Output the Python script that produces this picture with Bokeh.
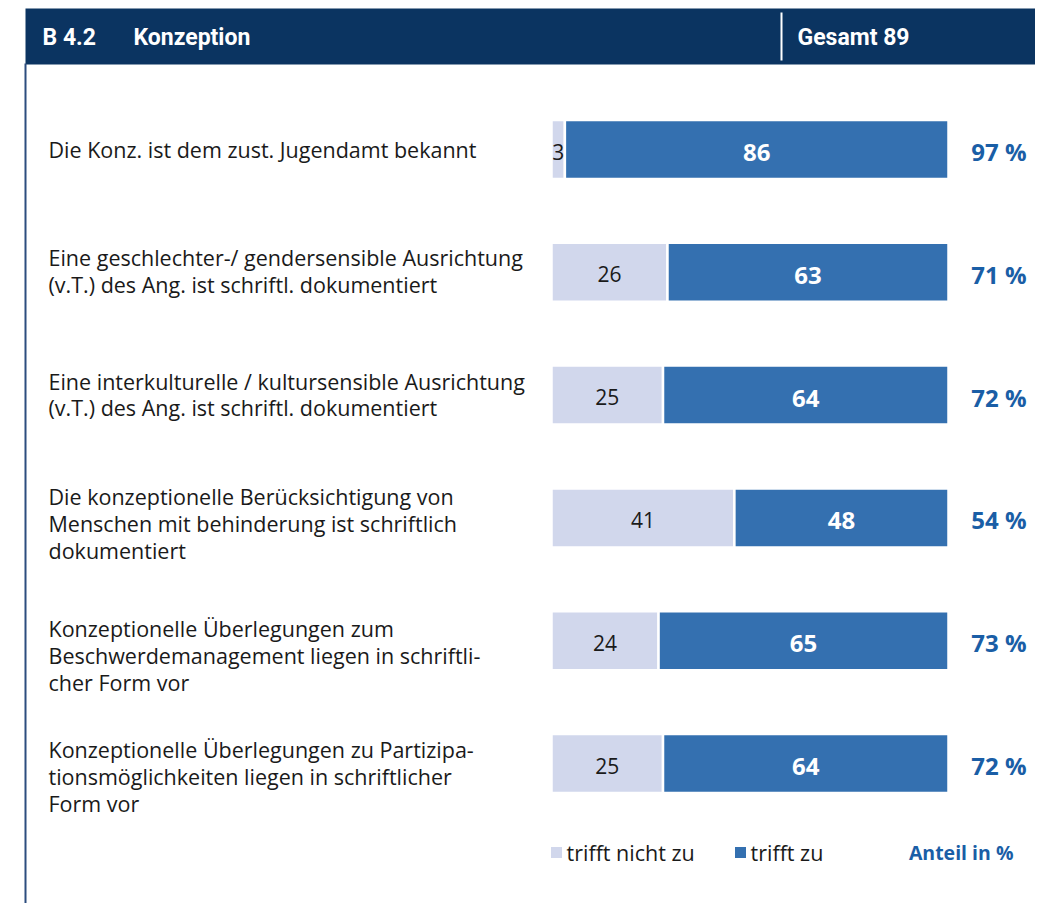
from bokeh.plotting import figure
from bokeh.models import Range1d
from bokeh.core.properties import value
from bokeh.embed import file_html
from bokeh.resources import INLINE

# ---------------- data ----------------
categories = [
    ["Die Konz. ist dem zust. Jugendamt bekannt"],
    ["Eine geschlechter-/ gendersensible Ausrichtung", "(v.T.) des Ang. ist schriftl. dokumentiert"],
    ["Eine interkulturelle / kultursensible Ausrichtung", "(v.T.) des Ang. ist schriftl. dokumentiert"],
    ["Die konzeptionelle Berücksichtigung von", "Menschen mit behinderung ist schriftlich", "dokumentiert"],
    ["Konzeptionelle Überlegungen zum", "Beschwerdemanagement liegen in schriftli-", "cher Form vor"],
    ["Konzeptionelle Überlegungen zu Partizipa-", "tionsmöglichkeiten liegen in schriftlicher", "Form vor"],
]
trifft_nicht_zu = [3, 26, 25, 41, 24, 25]
trifft_zu = [86, 63, 64, 48, 65, 64]
gesamt = 89
series_names = ["trifft nicht zu", "trifft zu"]
title_code = "B 4.2"
title_text = "Konzeption"
total_label = "Gesamt 89"
unit_label = "Anteil in %"

# ---------------- styling / layout ----------------
LIGHT = "#d1d7ec"
DARK = "#3470b0"
NAVY = "#0b3461"
PCT_COL = "#1a5ea6"
FONT = "Open Sans"
HEAD_FONT = "Roboto"

W, H = 1035, 903
PAGE_X0, PAGE_Y0 = 0, 0
ZERO_PX = 551.0
PX_PER = 397.0 / gesamt
ROW0_PX = 149.0
ROW_STEP = 122.8


def dx(px):
    return (px - ZERO_PX) / PX_PER


def dy(py):
    return (py - ROW0_PX) / ROW_STEP


p = figure(width=W, height=H, output_backend="svg", toolbar_location=None,
           x_range=Range1d(dx(PAGE_X0), dx(PAGE_X0 + W)),
           y_range=Range1d(dy(PAGE_Y0 + H), dy(PAGE_Y0)),
           min_border=0, min_border_left=0, min_border_right=0,
           min_border_top=0, min_border_bottom=0)
p.axis.visible = False
p.grid.visible = False
p.outline_line_color = None
p.background_fill_color = "white"
p.border_fill_color = "white"

# header band
p.quad(left=[dx(25)], right=[dx(1045)], top=[dy(8)], bottom=[dy(64)],
       fill_color=NAVY, line_color=None)
p.segment(x0=[dx(781)], x1=[dx(781)], y0=[dy(12)], y1=[dy(60)],
          line_color="white", line_width=2)
for tx, tt in [(42, title_code), (133, title_text), (797, total_label)]:
    p.text(x=[dx(tx)], y=[dy(37)], text=[tt], text_font=value(HEAD_FONT),
           text_font_style="bold", text_font_size="23px", text_color="white",
           text_baseline="middle", text_align="left")

# left frame line
p.segment(x0=[dx(25)], x1=[dx(25)], y0=[dy(63)], y1=[dy(915)],
          line_color="#2c4d7e", line_width=2)

rows = list(range(len(categories)))
bar_h = 59.0 / ROW_STEP

# bars
p.hbar(y=rows, left=[0] * len(rows), right=trifft_nicht_zu, height=bar_h,
       fill_color=LIGHT, line_color="white", line_width=2.5)
p.hbar(y=rows, left=trifft_nicht_zu,
       right=[a + b for a, b in zip(trifft_nicht_zu, trifft_zu)], height=bar_h,
       fill_color=DARK, line_color="white", line_width=2.5)

# values inside bars
p.text(x=[a / 2 for a in trifft_nicht_zu], y=[r + 2 / ROW_STEP for r in rows],
       text=[str(a) for a in trifft_nicht_zu], text_font=value(FONT),
       text_font_size="21px", text_color="#1a1a1a", text_align="center",
       text_baseline="middle")
p.text(x=[a + b / 2 for a, b in zip(trifft_nicht_zu, trifft_zu)],
       y=[r + 3 / ROW_STEP for r in rows],
       text=[str(b) for b in trifft_zu], text_font=value(FONT),
       text_font_style="bold", text_font_size="24px", text_color="white",
       text_align="center", text_baseline="middle")

# percentages
pcts = [f"{round(b / gesamt * 100)} %" for b in trifft_zu]
p.text(x=[dx(1026)] * len(rows), y=[r + 2 / ROW_STEP for r in rows], text=pcts,
       text_font=value(FONT), text_font_style="bold", text_font_size="24px",
       text_color=PCT_COL, text_align="right", text_baseline="middle")

# category labels
first_line_offset = [0, -15, -14, -21, -12, -14]
LINE_H = 26.8
lx, ly, lt = [], [], []
for r, lines in enumerate(categories):
    for k, line in enumerate(lines):
        lx.append(dx(48))
        ly.append(r + (first_line_offset[r] + k * LINE_H) / ROW_STEP)
        lt.append(line)
p.text(x=lx, y=ly, text=lt, text_font=value(FONT), text_font_size="21.5px",
       text_color="#1a1a1a", text_align="left", text_baseline="middle")

# legend
leg_y = dy(852)
p.scatter(x=[dx(556), dx(740)], y=[leg_y, leg_y], marker="square", size=11,
          fill_color=[LIGHT, DARK], line_color=None)
p.text(x=[dx(566), dx(750)], y=[leg_y, leg_y], text=series_names,
       text_font=value(FONT), text_font_size="21.5px", text_color="#1a1a1a",
       text_align="left", text_baseline="middle")
p.text(x=[dx(1013)], y=[leg_y], text=[unit_label], text_font=value(FONT),
       text_font_style="bold", text_font_size="19.5px", text_color=PCT_COL,
       text_align="right", text_baseline="middle")

open("out.html", "w").write(file_html(p, INLINE))
